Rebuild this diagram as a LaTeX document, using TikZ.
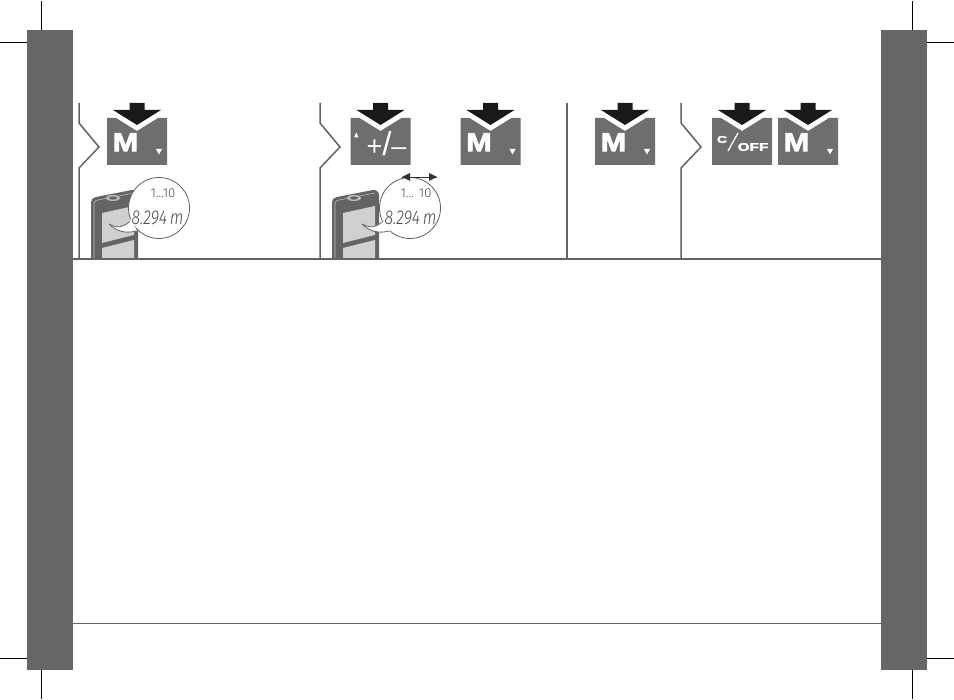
\documentclass[tikz,border=0pt]{standalone}
\usepackage{fontspec}
\setmainfont{Liberation Sans}
\newfontfamily\lcdfont[ItalicFont=* Light Italic,UprightFont=* Light]{Fira Sans}
\newfontfamily\heavyfont[FakeBold=2.8]{Liberation Sans Bold}
\definecolor{barg}{HTML}{666666}
\definecolor{btng}{HTML}{6D6E70}
\definecolor{lineg}{HTML}{636363}
\definecolor{devg}{HTML}{636466}
\definecolor{scrg}{HTML}{CFD0D1}
\tikzset{
  sidebar/.style={fill=barg,draw=none},
  cropline/.style={black,line width=1pt},
  rulethick/.style={lineg,line width=2pt},
  rulethin/.style={lineg,line width=1.2pt},
  stepline/.style={lineg,line width=1.5pt,line join=miter},
  btnface/.style={fill=btng,draw=none},
  pressarrow/.style={fill=black!90,draw=none},
  whitemark/.style={fill=white,draw=none},
  keytext/.style={text=white,inner sep=0pt},
  bubble/.style={draw=lineg,line width=.8pt,fill=white},
  readout/.style={text=black!70,inner sep=0pt},
}
\newcommand{\keyface}[1]{%
  \fill[btnface] (#1-30,118) -- (#1-21,118) -- (#1,131) -- (#1+21,118) -- (#1+30,118) -- (#1+30,165) -- (#1-30,165) -- cycle;
  \fill[pressarrow] (#1-7.5,103) -- (#1+7.5,103) -- (#1+7.5,110) -- (#1+24,110) -- (#1,125) -- (#1-24,110) -- (#1-7.5,110) -- cycle;
}
\newcommand{\mkey}[2]{%
  \keyface{#1}
  \node[keytext,font=\heavyfont\fontsize{26}{26}\selectfont,xscale=1.17] (#2) at (#1-11.5,142.3) {M};
  \fill[whitemark] (#1+19,149) -- (#1+25,149) -- (#1+22,154.5) -- cycle;
}
\newcommand{\chevron}[1]{%
  \draw[stepline] (#1,103) -- (#1,123) -- (#1+20,147) -- (#1,168) -- (#1,258);
}
\newcommand{\device}[3]{%
  \begin{scope}[shift={(#1,0)}]
    \fill[devg] (91,258) -- (91,202) to[out=90,in=190] (96,197) -- (132,190) to[out=10,in=90] (138,195) -- (138,258) -- cycle;
    \draw[white!55!devg,line width=.6pt] (94,258) -- (94,203) to[out=90,in=190] (98,200) -- (134,193);
    \fill[white!55!devg] (113,198) ellipse (7 and 3);
    \fill[devg] (113,198) ellipse (4 and 1.6);
    \fill[scrg] (102,213) -- (134,206) -- (134,235) -- (102,243) -- cycle;
    \fill[scrg] (102,248) -- (134,240) -- (134,258) -- (102,258) -- cycle;
    \path[bubble] (159+#2,208) circle (30.5);
    \begin{scope}[shift={(#3,0)}]
      \fill[white] (109,224) .. controls (118,229) and (124,227) .. (131,219) -- (137,231) .. controls (125,234) and (116,231) .. (109,224) -- cycle;
      \draw[lineg,line width=.8pt] (109,224) .. controls (118,229) and (124,227) .. (130,221);
      \draw[lineg,line width=.8pt] (109,224) .. controls (116,231) and (125,234) .. (136,231);
    \end{scope}
  \end{scope}
}
\begin{document}
\begin{tikzpicture}[x=1pt,y=-1pt]
\useasboundingbox (0,0) rectangle (954,700);
% side bars
\fill[sidebar] (27,30) rectangle (73,670);
\fill[sidebar] (881,30) rectangle (927,670);
% crop marks
\draw[cropline] (41.5,1) -- (41.5,30);
\draw[cropline] (0,42.5) -- (27,42.5);
\draw[cropline] (0,658.5) -- (27,658.5);
\draw[cropline] (41.5,670) -- (41.5,699);
\draw[cropline] (912.5,1) -- (912.5,30);
\draw[cropline] (927,42.5) -- (954,42.5);
\draw[cropline] (927,658.5) -- (954,658.5);
\draw[cropline] (912.5,670) -- (912.5,699);
% step separators
\chevron{79}
\chevron{320}
\draw[stepline] (567,103) -- (567,258);
\chevron{681}
% keys
\mkey{137}{ma}
\keyface{380.5}
\node[keytext,font=\fontsize{27}{27}\selectfont] (pm) at (386.5,143.5) {+{\fontsize{33}{33}\selectfont/}–};
\fill[whitemark] (354,137.5) -- (358.5,137.5) -- (356.2,132.5) -- cycle;
\mkey{490.5}{mb}
\mkey{625}{mc}
\keyface{742}
\node[keytext,font=\heavyfont\fontsize{10}{10}\selectfont,xscale=1.4] (coffc) at (722,139.5) {C};
\draw[white,line width=1.3pt] (728,151) -- (738,133);
\node[keytext,font=\heavyfont\fontsize{11}{11}\selectfont,xscale=1.4] (coffo) at (753,147) {OFF};
\mkey{808}{md}
% devices
\device{0}{0}{0}
\device{241}{10}{12}
\node[readout,font=\lcdfont\fontsize{13}{13}\selectfont] (ra) at (163,193) {1...10};
\node[readout,font=\lcdfont\itshape\fontsize{20}{20}\selectfont,xscale=.8] (va) at (157.5,218) {8.294\,m};
\node[readout,font=\lcdfont\fontsize{13}{13}\selectfont] (rb) at (416,193) {1... 10};
\node[readout,font=\lcdfont\itshape\fontsize{20}{20}\selectfont,xscale=.8] (vb) at (410.5,218) {8.294\,m};
\coordinate (ws) at (402,177);
\coordinate (es) at (437,177);
\draw[lineg!50!black,line width=.8pt] (ws) -- (es);
\fill[black!80] (ws) -- (410,173) -- (410,181) -- cycle;
\fill[black!80] (es) -- (429,173) -- (429,181) -- cycle;
% rules
\draw[rulethick] (73,258.8) -- (881,258.8);
\draw[rulethin] (73,623.8) -- (881,623.8);
\end{tikzpicture}
\end{document}
